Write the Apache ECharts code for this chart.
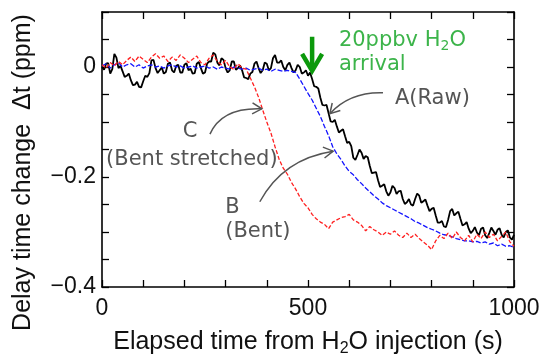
<!DOCTYPE html>
<html>
<head>
<meta charset="utf-8">
<script src="https://cdn.jsdelivr.net/npm/echarts@6/dist/echarts.min.js"></script>
<style>
  html, body { margin: 0; padding: 0; background: #fff; }
  #chart { width: 548px; height: 356px; }
</style>
</head>
<body>
<div id="chart"></div>
<script>
// Sample times (s) after H2O injection for the raw trace (5 s step)
const timeSecA = [
  0, 5, 10, 15, 20, 25, 30, 35, 40, 45, 50, 55, 60, 65, 70, 75, 80, 85, 90, 95,
  100, 105, 110, 115, 120, 125, 130, 135, 140, 145, 150, 155, 160, 165, 170, 175, 180, 185, 190, 195,
  200, 205, 210, 215, 220, 225, 230, 235, 240, 245, 250, 255, 260, 265, 270, 275, 280, 285, 290, 295,
  300, 305, 310, 315, 320, 325, 330, 335, 340, 345, 350, 355, 360, 365, 370, 375, 380, 385, 390, 395,
  400, 405, 410, 415, 420, 425, 430, 435, 440, 445, 450, 455, 460, 465, 470, 475, 480, 485, 490, 495,
  500, 505, 510, 515, 520, 525, 530, 535, 540, 545, 550, 555, 560, 565, 570, 575, 580, 585, 590, 595,
  600, 605, 610, 615, 620, 625, 630, 635, 640, 645, 650, 655, 660, 665, 670, 675, 680, 685, 690, 695,
  700, 705, 710, 715, 720, 725, 730, 735, 740, 745, 750, 755, 760, 765, 770, 775, 780, 785, 790, 795,
  800, 805, 810, 815, 820, 825, 830, 835, 840, 845, 850, 855, 860, 865, 870, 875, 880, 885, 890, 895,
  900, 905, 910, 915, 920, 925, 930, 935, 940, 945, 950, 955, 960, 965, 970, 975, 980, 985, 990, 995,
  1000
];

// A: raw delay time change (ppm)
const rawA = [
  0.000, -0.005, 0.006, 0.007, -0.012, -0.004, 0.024, 0.017, -0.002, 0.002,
  -0.008, -0.018, -0.016, -0.012, -0.024, -0.033, -0.032, -0.027, -0.036, -0.037,
  -0.026, -0.016, -0.018, -0.011, 0.012, 0.013, -0.002, -0.011, -0.006, -0.001,
  -0.012, -0.009, 0.006, 0.008, -0.006, -0.010, 0.002, 0.004, -0.010, -0.010,
  0.004, 0.007, -0.006, -0.003, -0.012, -0.011, 0.006, 0.009, -0.002, -0.012,
  -0.010, 0.006, 0.010, 0.010, 0.026, 0.023, 0.008, 0.003, 0.016, 0.013,
  -0.002, -0.010, -0.006, 0.010, 0.010, -0.005, -0.002, 0.003, -0.006, -0.019,
  -0.020, -0.022, -0.012, -0.009, 0.006, 0.010, -0.002, -0.011, -0.006, 0.008,
  0.006, -0.006, -0.002, 0.016, 0.022, 0.008, 0.008, 0.012, 0.000, -0.006,
  0.004, 0.008, -0.002, -0.010, -0.006, 0.004, 0.000, -0.012, -0.010, -0.006,
  -0.016, -0.010, -0.022, -0.035, -0.036, -0.039, -0.056, -0.069, -0.070, -0.069,
  -0.084, -0.099, -0.100, -0.096, -0.108, -0.119, -0.116, -0.113, -0.126, -0.138,
  -0.136, -0.144, -0.165, -0.169, -0.160, -0.150, -0.156, -0.167, -0.162, -0.164,
  -0.180, -0.193, -0.192, -0.191, -0.206, -0.218, -0.216, -0.213, -0.226, -0.234,
  -0.228, -0.216, -0.220, -0.231, -0.226, -0.225, -0.240, -0.249, -0.246, -0.240,
  -0.250, -0.252, -0.240, -0.230, -0.234, -0.247, -0.244, -0.241, -0.252, -0.262,
  -0.258, -0.256, -0.270, -0.283, -0.283, -0.280, -0.290, -0.291, -0.278, -0.262,
  -0.258, -0.270, -0.266, -0.263, -0.276, -0.288, -0.286, -0.282, -0.294, -0.302,
  -0.298, -0.291, -0.301, -0.306, -0.294, -0.292, -0.306, -0.311, -0.302, -0.292,
  -0.298, -0.305, -0.296, -0.293, -0.305, -0.310, -0.300, -0.297, -0.310, -0.314,
  -0.305
];

// Sample times (s) for the corrected traces (10 s step)
const timeSec = [
  0, 10, 20, 30, 40, 50, 60, 70, 80, 90,
  100, 110, 120, 130, 140, 150, 160, 170, 180, 190,
  200, 210, 220, 230, 240, 250, 260, 270, 280, 290,
  300, 310, 320, 330, 340, 350, 360, 370, 380, 390,
  400, 410, 420, 430, 440, 450, 460, 470, 480, 490,
  500, 510, 520, 530, 540, 550, 560, 570, 580, 590,
  600, 610, 620, 630, 640, 650, 660, 670, 680, 690,
  700, 710, 720, 730, 740, 750, 760, 770, 780, 790,
  800, 810, 820, 830, 840, 850, 860, 870, 880, 890,
  900, 910, 920, 930, 940, 950, 960, 970, 980, 990,
  1000
];

// B: bent-corrected delay time change (ppm)
const bentB = [
  0.002, 0.006, -0.002, 0.004, 0.008, 0.000, 0.004, 0.006, 0.000, 0.004,
  -0.002, 0.002, 0.004, 0.000, 0.002, -0.002, 0.002, 0.004, 0.000, 0.002,
  -0.002, 0.000, 0.002, -0.002, 0.000, 0.002, -0.002, 0.000, -0.004, 0.000,
  -0.002, -0.004, 0.000, -0.002, -0.004, -0.002, -0.006, -0.004, -0.002, -0.006,
  -0.004, -0.008, -0.004, -0.006, -0.008, -0.006, -0.008, -0.010, -0.022, -0.035,
  -0.048, -0.060, -0.075, -0.090, -0.108, -0.125, -0.145, -0.158, -0.168, -0.180,
  -0.190, -0.196, -0.205, -0.212, -0.220, -0.227, -0.234, -0.240, -0.247, -0.252,
  -0.256, -0.260, -0.264, -0.268, -0.272, -0.276, -0.281, -0.284, -0.288, -0.292,
  -0.295, -0.298, -0.302, -0.305, -0.306, -0.309, -0.312, -0.314, -0.316, -0.316,
  -0.318, -0.317, -0.320, -0.318, -0.322, -0.320, -0.325, -0.322, -0.326, -0.325,
  -0.328
];

// C: bent and stretched delay time change (ppm)
const stretchedC = [
  0.004, -0.002, 0.008, 0.002, 0.010, 0.004, 0.012, 0.018, 0.010, 0.020,
  0.014, 0.008, 0.018, 0.024, 0.016, 0.020, 0.010, 0.018, 0.012, 0.022,
  0.016, 0.008, 0.014, 0.020, 0.008, 0.004, 0.016, 0.022, 0.010, 0.004,
  0.012, 0.000, -0.004, 0.006, -0.002, -0.004, -0.020, -0.036, -0.055, -0.078,
  -0.100, -0.120, -0.145, -0.168, -0.184, -0.195, -0.210, -0.222, -0.236, -0.248,
  -0.256, -0.268, -0.276, -0.282, -0.286, -0.294, -0.282, -0.278, -0.274, -0.272,
  -0.268, -0.278, -0.282, -0.288, -0.298, -0.290, -0.296, -0.300, -0.306, -0.300,
  -0.304, -0.298, -0.306, -0.310, -0.302, -0.310, -0.304, -0.312, -0.318, -0.324,
  -0.332, -0.316, -0.306, -0.312, -0.302, -0.312, -0.300, -0.310, -0.316, -0.306,
  -0.318, -0.304, -0.312, -0.300, -0.310, -0.304, -0.316, -0.308, -0.300, -0.318,
  -0.326
];

// Labelled ticks
const xTickValues = [0, 500, 1000];
const xTickLabels = ['0', '500', '1000'];
const yTickValues = [0, -0.2, -0.4];
const yTickLabels = ['0', '\u22120.2', '\u22120.4'];

// Annotation anchors in data coordinates [time, ppm]
const waterArrow = { top: [510, 0.055], tip: [510, -0.007] };
const waterText = { line1: [575, 0.049], line2: [575, 0.004] };
const labelA = { text: [711, -0.058], from: [682, -0.047], ctrl: [602, -0.045], to: [553, -0.085] };
const labelC = { letter: [214, -0.118], note: [218, -0.169], from: [262, -0.122], ctrl: [291, -0.073], to: [388, -0.076] };
const labelB = { letter: [299, -0.255], note: [299, -0.300], from: [383, -0.245], ctrl: [439, -0.167], to: [561, -0.153] };

const AXIS_FONT = 'Liberation Sans, Arial, sans-serif';
const NOTE_FONT = 'DejaVu Sans, Verdana, sans-serif';

function pairs(ts, ys) { return ts.map((t, i) => [t, ys[i]]); }

function labelFor(values, labels, v) {
  for (let i = 0; i < values.length; i++) {
    if (Math.abs(values[i] - v) < 1e-6) return labels[i];
  }
  return '';
}

const frameLine = { lineStyle: { color: '#000', width: 1.6 } };
const frameTick = { inside: true, length: 7, lineStyle: { color: '#000', width: 1.3 } };

const chart = echarts.init(document.getElementById('chart'), null, { renderer: 'canvas' });

chart.setOption({
  animation: false,
  backgroundColor: '#fff',
  grid: { left: 102, right: 34, top: 12, bottom: 69, containLabel: false, outerBoundsMode: 'none' },
  xAxis: [
    {
      type: 'value', min: 0, max: 1000, interval: 100, position: 'bottom',
      axisLine: Object.assign({ onZero: false }, frameLine),
      axisTick: frameTick,
      splitLine: { show: false },
      axisLabel: {
        formatter: v => labelFor(xTickValues, xTickLabels, v),
        fontSize: 23, color: '#111', fontFamily: AXIS_FONT, margin: 10
      },
      name: '{a|Elapsed time from H}{s|2}{a|O injection (s)}',
      nameLocation: 'middle', nameGap: 40,
      nameTextStyle: {
        fontSize: 25, color: '#111', fontFamily: AXIS_FONT,
        rich: {
          a: { fontSize: 25, lineHeight: 30, color: '#111', fontFamily: AXIS_FONT },
          s: { fontSize: 16, lineHeight: 17, verticalAlign: 'bottom', color: '#111', fontFamily: AXIS_FONT }
        }
      }
    },
    {
      type: 'value', min: 0, max: 1000, interval: 100, position: 'top',
      axisLine: Object.assign({ onZero: false }, frameLine),
      axisTick: frameTick,
      splitLine: { show: false },
      axisLabel: { show: false }
    }
  ],
  yAxis: [
    {
      type: 'value', min: -0.4, max: 0.1, interval: 0.05, position: 'left',
      axisLine: Object.assign({ onZero: false }, frameLine),
      axisTick: frameTick,
      splitLine: { show: false },
      axisLabel: {
        formatter: v => labelFor(yTickValues, yTickLabels, v),
        fontSize: 23, color: '#111', fontFamily: AXIS_FONT, margin: 6
      },
      name: 'Delay time change  \u0394t (ppm)',
      nameLocation: 'middle', nameGap: 66,
      nameTextStyle: { fontSize: 25, color: '#111', fontFamily: AXIS_FONT, padding: [0, 46, 0, 0] }
    },
    {
      type: 'value', min: -0.4, max: 0.1, interval: 0.05, position: 'right',
      axisLine: Object.assign({ onZero: false }, frameLine),
      axisTick: frameTick,
      splitLine: { show: false },
      axisLabel: { show: false }
    }
  ],
  series: [
    {
      name: 'A (Raw)', type: 'line', data: pairs(timeSecA, rawA), showSymbol: false,
      xAxisIndex: 0, yAxisIndex: 0, z: 2,
      lineStyle: { color: '#000', width: 1.8 }
    },
    {
      name: 'B (Bent)', type: 'line', data: pairs(timeSec, bentB), showSymbol: false,
      xAxisIndex: 0, yAxisIndex: 0, z: 3,
      lineStyle: { color: '#1414ff', width: 1.3, type: [5, 2] }
    },
    {
      name: 'C (Bent stretched)', type: 'line', data: pairs(timeSec, stretchedC), showSymbol: false,
      xAxisIndex: 0, yAxisIndex: 0, z: 4,
      lineStyle: { color: '#ff2020', width: 1.3, type: [4, 2] }
    }
  ]
});

// ---- annotations, placed from data coordinates ----
const px = p => chart.convertToPixel({ xAxisIndex: 0, yAxisIndex: 0 }, p);
const GREY = '#555';
const elements = [];

function curvedArrow(spec) {
  const a = px(spec.from), c = px(spec.ctrl), b = px(spec.to);
  elements.push({
    type: 'bezierCurve', z: 10,
    shape: { x1: a[0], y1: a[1], cpx1: c[0], cpy1: c[1], x2: b[0], y2: b[1] },
    style: { stroke: GREY, lineWidth: 1.5, fill: null }
  });
  const dx = b[0] - c[0], dy = b[1] - c[1];
  const len = Math.hypot(dx, dy);
  const ux = dx / len, uy = dy / len;
  const wing = 11, ang = 30 * Math.PI / 180;
  const rot = s => [
    b[0] - wing * (ux * Math.cos(s * ang) - uy * Math.sin(s * ang)),
    b[1] - wing * (ux * Math.sin(s * ang) + uy * Math.cos(s * ang))
  ];
  elements.push({
    type: 'polyline', z: 10,
    shape: { points: [rot(1), b, rot(-1)] },
    style: { stroke: GREY, lineWidth: 1.5, fill: null }
  });
}

function note(pos, text, align, color, rich) {
  const p = px(pos);
  elements.push({
    type: 'text', z: 11, x: p[0], y: p[1],
    style: {
      text: text, fill: color, fontSize: 21, fontFamily: NOTE_FONT,
      align: align, verticalAlign: 'middle', rich: rich
    }
  });
}

// water arrival arrow
const wTop = px(waterArrow.top), wTip = px(waterArrow.tip);
const GREEN_ARROW = '#0c990c', GREEN_TEXT = '#3cb44a';
elements.push({
  type: 'line', z: 12,
  shape: { x1: wTop[0], y1: wTop[1], x2: wTip[0], y2: wTip[1] - 2 },
  style: { stroke: GREEN_ARROW, lineWidth: 4.5 }
});
elements.push({
  type: 'polyline', z: 12,
  shape: { points: [[wTip[0] - 10, wTip[1] - 17], [wTip[0], wTip[1]], [wTip[0] + 10, wTip[1] - 17]] },
  style: { stroke: GREEN_ARROW, lineWidth: 4.5, fill: null, lineJoin: 'miter' }
});
note(waterText.line1, '{a|20ppbv H}{s|2}{a|O}', 'left', GREEN_TEXT, {
  a: { fontSize: 21, lineHeight: 26, fill: GREEN_TEXT, fontFamily: NOTE_FONT },
  s: { fontSize: 14, lineHeight: 14, verticalAlign: 'bottom', fill: GREEN_TEXT, fontFamily: NOTE_FONT }
});
note(waterText.line2, 'arrival', 'left', GREEN_TEXT);

// curve labels
note(labelA.text, 'A(Raw)', 'left', GREY);
curvedArrow(labelA);
note(labelC.letter, 'C', 'center', GREY);
note(labelC.note, '(Bent stretched)', 'center', GREY);
curvedArrow(labelC);
note(labelB.letter, 'B', 'left', GREY);
note(labelB.note, '(Bent)', 'left', GREY);
curvedArrow(labelB);

chart.setOption({ graphic: { elements: elements } });
</script>
</body>
</html>
